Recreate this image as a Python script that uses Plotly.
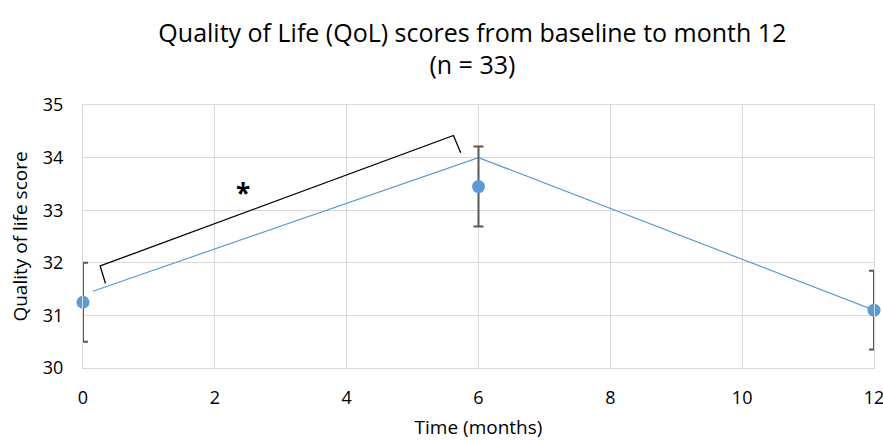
import plotly.graph_objects as go

# Data
months = [0, 6, 12]
qol_mean = [31.25, 33.45, 31.1]
qol_err = [0.75, 0.76, 0.75]

line_x = [0.15, 6, 12]
line_y = [31.46, 34.0, 31.1]

bracket_x = [0.34, 0.26, 5.62, 5.73]
bracket_y = [31.61, 31.94, 34.42, 34.09]

star_x = [2.43]
star_y = [33.26]

x_ticks = [0, 2, 4, 6, 8, 10, 12]
y_ticks = [30, 31, 32, 33, 34, 35]

FONT = "Open Sans"
GRID = "#d9d9d9"
BLUE = "#5b9bd5"

fig = go.Figure()

fig.add_trace(go.Scatter(
    x=line_x, y=line_y, mode="lines", cliponaxis=False,
    line=dict(color=BLUE, width=1.2), hoverinfo="skip", showlegend=False))

fig.add_trace(go.Scatter(
    x=months, y=qol_mean, mode="markers", cliponaxis=False,
    marker=dict(color=BLUE, size=13),
    error_y=dict(type="data", array=qol_err, visible=True,
                 color="#595959", thickness=2, width=5),
    showlegend=False))

fig.add_trace(go.Scatter(
    x=bracket_x, y=bracket_y, mode="lines",
    line=dict(color="black", width=1.3), hoverinfo="skip", showlegend=False))

fig.add_trace(go.Scatter(
    x=star_x, y=star_y, mode="text", text=["<b>*</b>"],
    textfont=dict(family=FONT, size=26, color="black"),
    textposition="middle center", showlegend=False))

fig.update_layout(
    width=883, height=440,
    margin=dict(l=83, r=9, t=105, b=72),
    paper_bgcolor="white", plot_bgcolor="white",
    font=dict(family=FONT, color="#000000"),
    title=dict(
        text="Quality of Life (QoL) scores from baseline to month 12<br>(n = 33)",
        x=0.535, xanchor="center", yref="container", y=0.905, yanchor="middle",
        font=dict(family=FONT, size=25, color="#000000")),
)

fig.update_xaxes(
    range=[0, 12], tickvals=x_ticks, showgrid=True, gridcolor=GRID, gridwidth=1,
    showline=True, linecolor=GRID, linewidth=1, mirror=True, automargin=False,
    ticklabeloverflow="allow",
    zeroline=False, ticks="outside", ticklen=13, tickcolor="rgba(0,0,0,0)",
    tickfont=dict(family=FONT, size=18, color="#000000"),
    title=dict(text="Time (months)", font=dict(family=FONT, size=19, color="#000000"), standoff=13))

fig.update_yaxes(
    range=[30, 35], tickvals=y_ticks, showgrid=True, gridcolor=GRID, gridwidth=1,
    showline=True, linecolor=GRID, linewidth=1, mirror=True, automargin=False,
    ticklabeloverflow="allow",
    zeroline=False, ticks="outside", ticklen=15, tickcolor="rgba(0,0,0,0)",
    tickfont=dict(family=FONT, size=18, color="#000000"),
    title=dict(text="Quality of life score", font=dict(family=FONT, size=19, color="#000000"), standoff=10))

fig.write_html("out.html", config={"displayModeBar": False},
               post_script="document.body.style.margin='0';document.body.style.overflow='hidden';")
